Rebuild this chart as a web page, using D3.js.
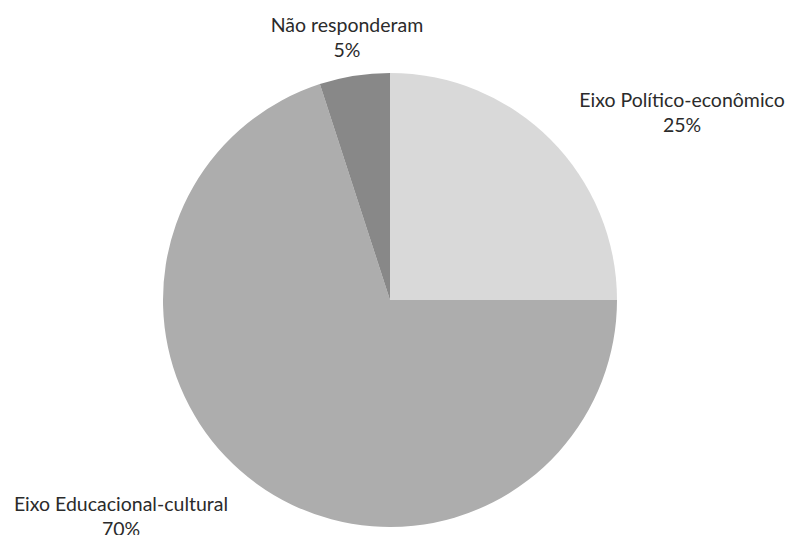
<!DOCTYPE html>
<html>
<head>
<meta charset="utf-8">
<script src="https://cdn.jsdelivr.net/npm/d3@7"></script>
<style>
  html, body { margin: 0; padding: 0; background: #ffffff; }
  svg { display: block; }
  text { font-family: Lato, "Open Sans", sans-serif; fill: #2b2b2b; }
</style>
</head>
<body>
<svg id="chart" width="788" height="535"></svg>
<script>
// Data
const categories = ["Eixo Político-econômico", "Eixo Educacional-cultural", "Não responderam"];
const values = [25, 70, 5];
const percentLabels = ["25%", "70%", "5%"];
const colors = ["#d9d9d9", "#adadad", "#888888"];

const width = 788, height = 535;
const cx = 390, cy = 300, radius = 227;

const svg = d3.select("#chart");
const g = svg.append("g").attr("transform", `translate(${cx},${cy})`);

const pie = d3.pie().sort(null).value(d => d.value);
const arc = d3.arc().innerRadius(0).outerRadius(radius);

const data = categories.map((c, i) => ({ name: c, value: values[i], pct: percentLabels[i], color: colors[i] }));
const arcs = pie(data);

g.selectAll("path.slice")
  .data(arcs)
  .join("path")
  .attr("class", "slice")
  .attr("d", arc)
  .attr("fill", d => d.data.color);

// Label anchors, relative to the pie centre (first-line baseline)
const labelOffsets = [[292, -193], [-269, 211], [-43, -268]];
const labelGroup = g.selectAll("g.label")
  .data(arcs)
  .join("g")
  .attr("class", "label")
  .attr("transform", (d, i) => `translate(${labelOffsets[i][0]},${labelOffsets[i][1]})`);

labelGroup.append("text")
  .attr("text-anchor", "middle")
  .attr("font-size", 19.5)
  .text(d => d.data.name);

labelGroup.append("text")
  .attr("text-anchor", "middle")
  .attr("font-size", 19.5)
  .attr("y", 24.5)
  .text(d => d.data.pct);
</script>
</body>
</html>
